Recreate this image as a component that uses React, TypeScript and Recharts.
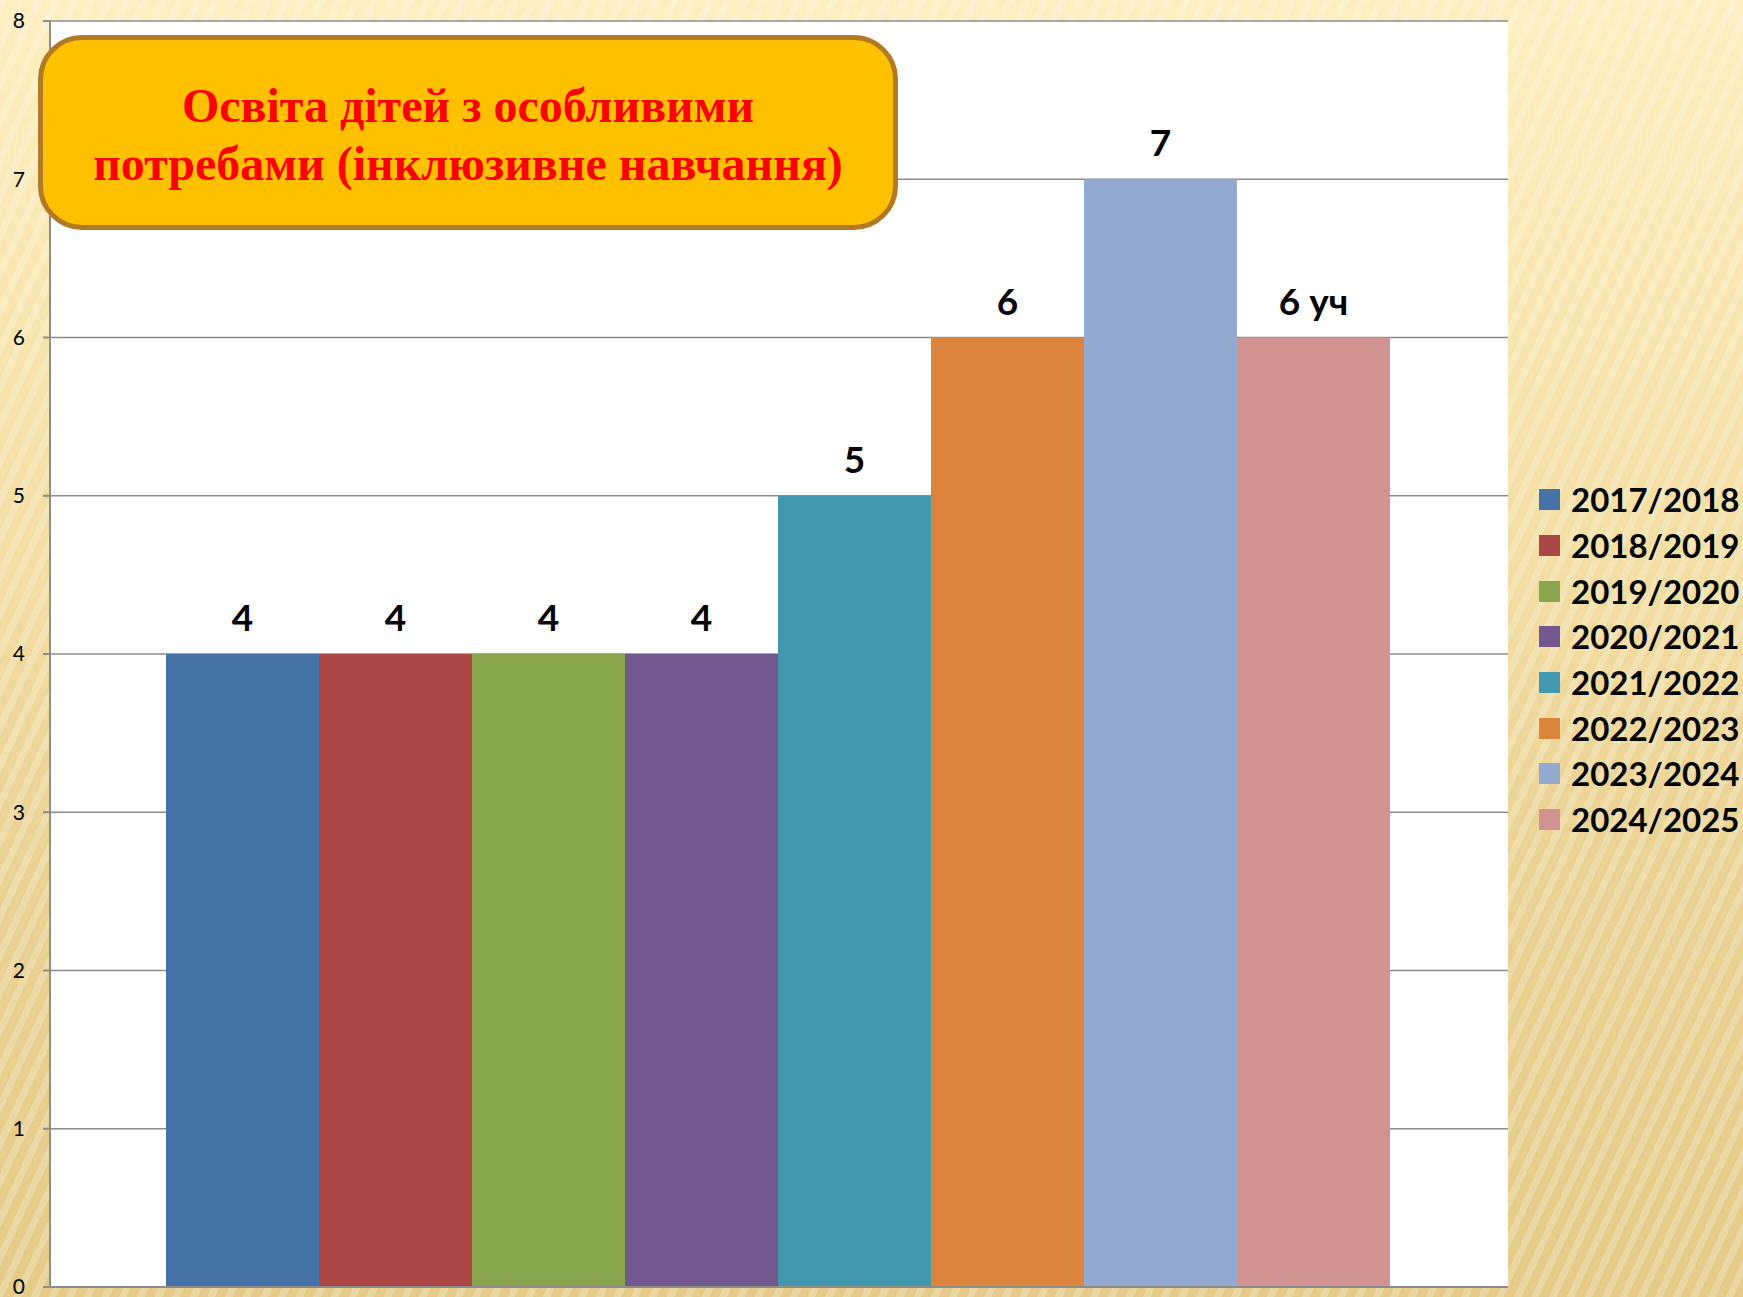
import { Bar, BarChart, CartesianGrid, LabelList, Legend, XAxis, YAxis } from 'recharts';

const years = [
    '2017/2018',
    '2018/2019',
    '2019/2020',
    '2020/2021',
    '2021/2022',
    '2022/2023',
    '2023/2024',
    '2024/2025',
];
const counts = [4, 4, 4, 4, 5, 6, 7, 6];
const colors = [
    '#4572A7',
    '#AA4643',
    '#89A54E',
    '#71588F',
    '#4198AF',
    '#DB843D',
    '#93A9CF',
    '#D19392',
];
const yTicks = [0, 1, 2, 3, 4, 5, 6, 7, 8];
const titleLines = ['Освіта дітей з особливими', 'потребами (інклюзивне навчання)'];

const FONT = 'Lato, "Open Sans", sans-serif';

const row: Record<string, string | number> = { name: '' };
years.forEach((y, i) => {
    row[y] = counts[i];
});
const chartData = [row];

function LegendContent({ payload }: { payload?: { value: string; color: string }[] }) {
    return (
        <div style={{ paddingLeft: 31 }}>
            {(payload ?? []).map((p) => (
                <div
                    key={p.value}
                    style={{ display: 'flex', alignItems: 'center', height: 45.7 }}
                >
                    <span
                        style={{
                            width: 21,
                            height: 21,
                            background: p.color,
                            marginRight: 11,
                            display: 'inline-block',
                        }}
                    />
                    <span
                        style={{
                            fontFamily: FONT,
                            fontWeight: 700,
                            fontSize: 33,
                            color: '#000',
                            lineHeight: 1,
                        }}
                    >
                        {p.value}
                    </span>
                </div>
            ))}
        </div>
    );
}

export default function App() {
    return (
        <div
            style={{
                position: 'absolute',
                left: 0,
                top: 0,
                width: 1743,
                height: 1297,
                overflow: 'hidden',
                background:
                    'repeating-linear-gradient(115deg, rgba(255,255,255,0.22) 0px, rgba(255,255,255,0.22) 7px, rgba(0,0,0,0) 7px, rgba(0,0,0,0) 16px), linear-gradient(180deg, #fdefc0 0%, #f7e4ac 30%, #ebd394 65%, #e5cb87 100%)',
            }}
        >
            <BarChart
                width={1743}
                height={1297}
                data={chartData}
                margin={{ top: 21, right: 0, bottom: 0, left: 0 }}
                barCategoryGap={116}
                barGap={0}
            >
                <CartesianGrid
                    vertical={false}
                    fill="#ffffff"
                    stroke="#8c8c8c"
                    strokeWidth={1.5}
                />
                <XAxis
                    dataKey="name"
                    height={10}
                    tick={false}
                    tickLine={false}
                    axisLine={{ stroke: '#8c8c8c', strokeWidth: 2 }}
                />
                <YAxis
                    width={50}
                    domain={[0, 8]}
                    ticks={yTicks}
                    interval={0}
                    tickSize={7}
                    tickMargin={18}
                    axisLine={{ stroke: '#8c8c8c', strokeWidth: 2 }}
                    tickLine={{ stroke: '#8c8c8c', strokeWidth: 2 }}
                    tick={{ fill: '#000', fontSize: 21, fontFamily: FONT }}
                />
                <Legend
                    layout="vertical"
                    align="right"
                    verticalAlign="top"
                    wrapperStyle={{ top: 477, right: 0, width: 235 }}
                    content={<LegendContent />}
                />
                {years.map((y, i) => (
                    <Bar
                        key={y}
                        dataKey={y}
                        name={y}
                        fill={colors[i]}
                        isAnimationActive={false}
                    >
                        <LabelList
                            dataKey={y}
                            position="top"
                            offset={23}
                            formatter={(v: number) =>
                                i === years.length - 1 ? `${v} уч` : `${v}`
                            }
                            style={{
                                fill: '#000',
                                fontSize: 37,
                                fontWeight: 700,
                                fontFamily: FONT,
                            }}
                        />
                    </Bar>
                ))}
            </BarChart>
            <div
                style={{
                    position: 'absolute',
                    left: 38,
                    top: 35,
                    width: 860,
                    height: 195,
                    boxSizing: 'border-box',
                    background: '#FFC000',
                    border: '5px solid #B27A24',
                    borderRadius: 44,
                    display: 'flex',
                    flexDirection: 'column',
                    justifyContent: 'center',
                    alignItems: 'center',
                    fontFamily: '"Liberation Serif", "Times New Roman", serif',
                    fontWeight: 700,
                    fontSize: 48,
                    lineHeight: '58px',
                    color: '#FF0000',
                    textAlign: 'center',
                    paddingTop: 4,
                }}
            >
                {titleLines.map((t) => (
                    <div key={t}>{t}</div>
                ))}
            </div>
        </div>
    );
}
